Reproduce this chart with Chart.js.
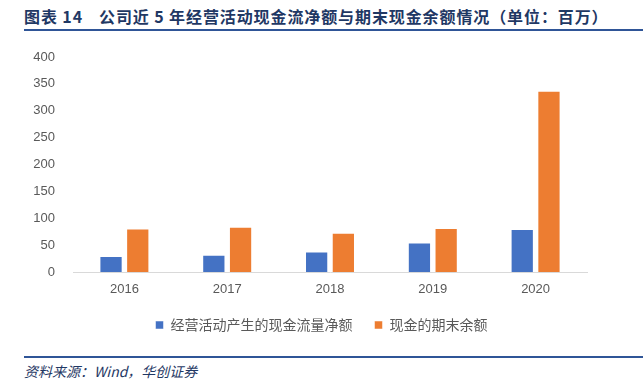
<!DOCTYPE html>
<html>
<head>
<meta charset="utf-8">
<script src="https://cdn.jsdelivr.net/npm/chart.js@4/dist/chart.umd.min.js"></script>
<style>
    html, body { margin: 0; padding: 0; background: #fff; }
    body { width: 643px; height: 390px; position: relative; overflow: hidden; }
    .title {
        position: absolute; left: 24px; top: 4px; white-space: nowrap;
        font-family: "Noto Sans CJK SC", sans-serif; font-weight: 700; font-size: 16px;
        color: #1F3864; letter-spacing: 0.9px;
    }
    .title .gap { display: inline-block; width: 16px; }
    .rule { position: absolute; left: 24px; right: 0; height: 2px; background: #2F5597; }
    .source {
        position: absolute; left: 24px; top: 361px; white-space: nowrap;
        font-family: "Noto Sans CJK SC", serif; font-style: italic; font-size: 14px;
        color: #1F3864;
    }
    #wrap { position: absolute; left: 0; top: 0; width: 643px; height: 345px; }
</style>
</head>
<body>
<div class="title">图表 14<span class="gap"></span>公司近 5 年经营活动现金流净额与期末现金余额情况（单位：百万）</div>
<div class="rule" style="top:29px;"></div>
<div id="wrap"><canvas id="chart"></canvas></div>
<div class="rule" style="top:356px;"></div>
<div class="source">资料来源：Wind，华创证券</div>

<script>
// --- Veriler ---
const years = ['2016', '2017', '2018', '2019', '2020'];
const netOperatingCash = [30, 32, 38, 55, 80];     // 经营活动产生的现金流量净额
const endingCash = [81, 84, 73, 82, 337];         // 现金的期末余额
const yTicks = [0, 50, 100, 150, 200, 250, 300, 350, 400];

const gray = '#595959';

new Chart(document.getElementById('chart'), {
    type: 'bar',
    data: {
        labels: years,
        datasets: [
            {
                label: '经营活动产生的现金流量净额',
                data: netOperatingCash,
                backgroundColor: '#4472C4',
                borderColor: 'rgba(255,255,255,0.5)',
                borderWidth: 1,
                categoryPercentage: 0.52,
                barPercentage: 0.87
            },
            {
                label: '现金的期末余额',
                data: endingCash,
                backgroundColor: '#ED7D31',
                borderColor: 'rgba(255,255,255,0.5)',
                borderWidth: 1,
                categoryPercentage: 0.52,
                barPercentage: 0.87
            }
        ]
    },
    options: {
        responsive: true,
        maintainAspectRatio: false,
        animation: false,
        layout: { padding: { top: 57, right: 0, left: 0, bottom: 3 } },
        plugins: {
            tooltip: { enabled: false },
            legend: {
                position: 'bottom',
                labels: {
                    boxWidth: 8,
                    boxHeight: 8,
                    padding: 22,
                    color: gray,
                    font: { family: '"Noto Sans CJK SC", sans-serif', size: 14 }
                }
            }
        },
        scales: {
            y: {
                min: 0,
                max: 400,
                afterFit: s => { s.width = 73; },
                afterBuildTicks: s => { s.ticks = yTicks.map(v => ({ value: v })); },
                grid: { display: false, drawTicks: false },
                border: { display: false },
                ticks: {
                    padding: 18,
                    color: gray,
                    font: { family: '"Liberation Sans", sans-serif', size: 13 }
                }
            },
            // boş sağ eksen: sadece sağ boşluğu ayırmak için
            yRight: {
                position: 'right',
                afterFit: s => { s.width = 56; },
                grid: { display: false, drawTicks: false },
                border: { display: false },
                ticks: { display: false }
            },
            x: {
                afterFit: s => { s.height = 24; },
                grid: { display: false, drawTicks: false },
                border: { color: '#D9D9D9', width: 1 },
                ticks: {
                    padding: 10,
                    color: gray,
                    font: { family: '"Liberation Sans", sans-serif', size: 13 }
                }
            }
        }
    }
});
</script>
</body>
</html>
